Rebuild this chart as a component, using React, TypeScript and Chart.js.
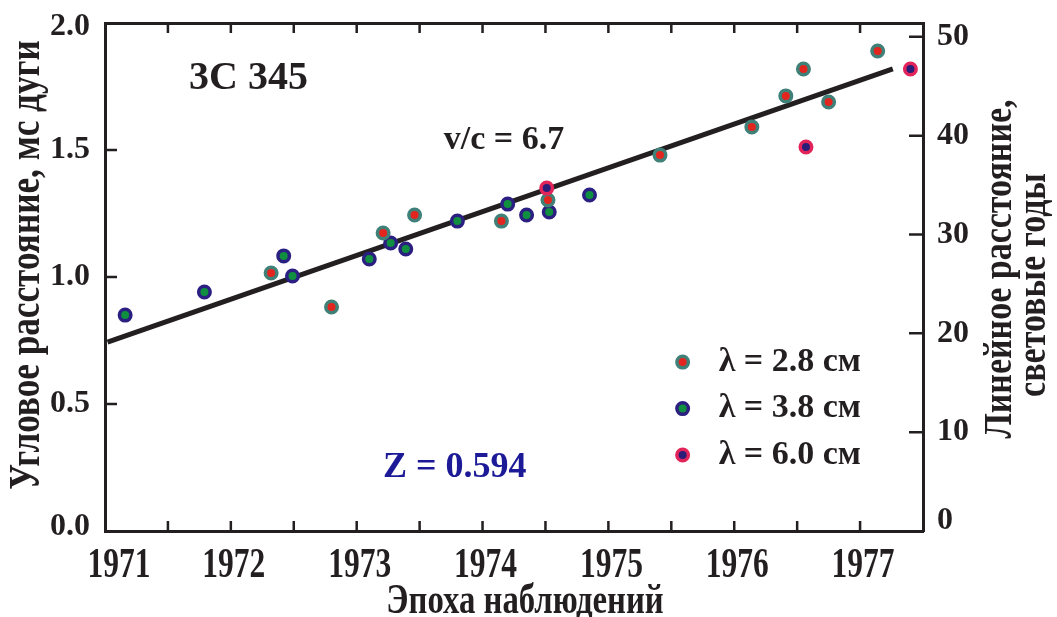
import { useEffect, useRef } from 'react';
import { Chart, registerables } from 'chart.js';

Chart.register(...registerables);

// Epochs of observation (years) and component separation (mas) per wavelength
const epochs28 = [1972.32, 1972.8, 1973.21, 1973.46, 1974.15, 1974.52, 1975.41, 1976.14, 1976.41, 1976.55, 1976.75, 1977.14];
const sep28 = [1.016, 0.882, 1.173, 1.244, 1.22, 1.303, 1.48, 1.591, 1.713, 1.819, 1.689, 1.89];

const epochs38 = [1971.16, 1971.79, 1972.42, 1972.49, 1973.1, 1973.27, 1973.39, 1973.8, 1974.2, 1974.35, 1974.53, 1974.85];
const sep38 = [0.85, 0.941, 1.083, 1.004, 1.071, 1.134, 1.11, 1.22, 1.287, 1.244, 1.256, 1.323];

const epochs60 = [1974.51, 1976.57, 1977.4];
const sep60 = [1.35, 1.512, 1.819];

// Straight-line fit of separation against time
const fitEpochs = [1971.02, 1977.26];
const fitSep = [0.744, 1.819];

// Axis ticks
const yearLabels = [1971, 1972, 1973, 1974, 1975, 1976, 1977];
const sepTicks = [0, 0.5, 1.0, 1.5, 2.0];
const lyTicks = [0, 10, 20, 30, 40, 50];

const EPOCH_MIN = 1971;
const EPOCH_MAX = 1977.5;
const SEP_MAX = 2.0;
const LY_PER_MAS = 25.7;

const INK = '#231f20';
const NAVY = '#1c1a96';
const SERIF = '"Liberation Serif", "Times New Roman", serif';

const zip = (xs: number[], ys: number[]) => xs.map((x, i) => ({ x, y: ys[i] }));

const halfYears: number[] = [];
for (let v = EPOCH_MIN; v <= EPOCH_MAX + 1e-9; v += 0.5) halfYears.push(v);

function drawText(
  ctx: CanvasRenderingContext2D,
  text: string,
  x: number,
  y: number,
  font: string,
  squeeze = 1,
  rotation = 0,
  color = INK,
  align: CanvasTextAlign = 'center'
) {
  ctx.save();
  ctx.translate(x, y);
  if (rotation) ctx.rotate(rotation);
  ctx.scale(squeeze, 1);
  ctx.font = font;
  ctx.fillStyle = color;
  ctx.textAlign = align;
  ctx.textBaseline = 'middle';
  ctx.fillText(text, 0, 0);
  ctx.restore();
}

const decorations = {
  id: 'decorations',
  afterDraw(chart: any) {
    const { ctx, chartArea: area, scales } = chart;
    const x = scales.x;
    const y = scales.y;
    const y2 = scales.y2;

    // inward tick marks
    ctx.save();
    ctx.strokeStyle = INK;
    ctx.lineWidth = 2.5;
    ctx.beginPath();
    halfYears.forEach((v) => {
      if (v <= EPOCH_MIN || v >= EPOCH_MAX) return;
      const px = x.getPixelForValue(v);
      ctx.moveTo(px, area.bottom);
      ctx.lineTo(px, area.bottom - 10);
      ctx.moveTo(px, area.top);
      ctx.lineTo(px, area.top + 10);
    });
    sepTicks.forEach((v) => {
      if (v <= 0 || v >= SEP_MAX) return;
      const py = y.getPixelForValue(v);
      ctx.moveTo(area.left, py);
      ctx.lineTo(area.left + 12, py);
    });
    lyTicks.forEach((v) => {
      if (v <= 0) return;
      const py = y2.getPixelForValue(v);
      ctx.moveTo(area.right, py);
      ctx.lineTo(area.right - 14, py);
    });
    ctx.stroke();
    ctx.restore();

    // tick labels
    const tickFont = `bold 32px ${SERIF}`;
    sepTicks.forEach((v) => {
      const py = Math.min(Math.max(y.getPixelForValue(v), area.top + 4), area.bottom - 4);
      drawText(ctx, v.toFixed(1), area.left - 15, py, tickFont, 1, 0, INK, 'right');
    });
    lyTicks.forEach((v) => {
      const py = Math.min(y2.getPixelForValue(v), area.bottom - 10);
      drawText(ctx, String(v), area.right + 14, py, tickFont, 1, 0, INK, 'left');
    });
    const yearFont = `bold 42px ${SERIF}`;
    yearLabels.forEach((v) => {
      let px = x.getPixelForValue(v) + 3;
      px = Math.max(px, area.left + 14);
      drawText(ctx, String(v), px, area.bottom + 35, yearFont, 0.75);
    });

    // axis titles
    const midY = (area.top + area.bottom) / 2;
    drawText(ctx, 'Эпоха наблюдений', (area.left + area.right) / 2 + 11, area.bottom + 71, `bold 42px ${SERIF}`, 0.78);
    drawText(ctx, 'Угловое расстояние, мс дуги', 28, midY - 12, `bold 44px ${SERIF}`, 0.8, -Math.PI / 2);
    drawText(ctx, 'Линейное расстояние,', area.right + 78, midY - 8, `bold 40px ${SERIF}`, 0.85, -Math.PI / 2);
    drawText(ctx, 'световые годы', area.right + 112, midY + 8, `bold 40px ${SERIF}`, 0.85, -Math.PI / 2);

    // annotations placed in data coordinates
    drawText(ctx, '3C 345', x.getPixelForValue(1972.14), y.getPixelForValue(1.78), `bold 40px ${SERIF}`);
    drawText(ctx, 'v/c = 6.7', x.getPixelForValue(1974.17), y.getPixelForValue(1.539), `bold 34px ${SERIF}`);
    drawText(ctx, 'Z = 0.594', x.getPixelForValue(1973.78), y.getPixelForValue(0.248), `bold 36px ${SERIF}`, 1, 0, NAVY);

    // legend
    const lx = x.getPixelForValue(1975.59);
    let row = 0;
    chart.data.datasets.forEach((ds: any) => {
      if (!ds.pointRadius) return;
      const ly = y.getPixelForValue(0.665 - row * 0.183);
      ctx.save();
      ctx.beginPath();
      ctx.arc(lx, ly, ds.pointRadius, 0, Math.PI * 2);
      ctx.fillStyle = ds.backgroundColor;
      ctx.fill();
      ctx.lineWidth = ds.borderWidth;
      ctx.strokeStyle = ds.borderColor;
      ctx.stroke();
      ctx.restore();
      drawText(ctx, ds.label, lx + 36, ly, `bold 34px ${SERIF}`, 1, 0, INK, 'left');
      row++;
    });
  },
};

// ring-and-dot marker: the stroke forms the coloured ring around the core fill
const marker = (ring: string, core: string) => ({
  pointRadius: 5.75,
  pointHoverRadius: 5.75,
  borderWidth: 3.5,
  pointBorderWidth: 3.5,
  borderColor: ring,
  backgroundColor: core,
  pointBackgroundColor: core,
  pointBorderColor: ring,
  showLine: false,
});

const axisBorder = { display: true, color: INK, width: 3 };
const hiddenGrid = { display: false, drawTicks: false };

export default function App() {
  const ref = useRef<HTMLCanvasElement | null>(null);

  useEffect(() => {
    if (!ref.current) return;
    const chart = new Chart(ref.current, {
      type: 'scatter',
      data: {
        datasets: [
          { label: 'λ = 2.8 см', data: zip(epochs28, sep28), order: 1, ...marker('#3f8078', '#e2261f') },
          { label: 'λ = 3.8 см', data: zip(epochs38, sep38), order: 2, ...marker('#2b2081', '#0f8f3f') },
          { label: 'λ = 6.0 см', data: zip(epochs60, sep60), order: 0, ...marker('#e3245b', '#2a1d78') },
          {
            label: 'fit',
            data: zip(fitEpochs, fitSep),
            order: 3,
            showLine: true,
            pointRadius: 0,
            borderColor: INK,
            borderWidth: 5,
            borderCapStyle: 'butt',
          } as any,
        ],
      },
      options: {
        animation: false,
        responsive: false,
        layout: { padding: 0 },
        plugins: { legend: { display: false }, tooltip: { enabled: false } },
        scales: {
          x: {
            type: 'linear',
            position: 'bottom',
            min: EPOCH_MIN,
            max: EPOCH_MAX,
            afterFit: (s: any) => {
              s.height = 86;
            },
            ticks: { display: false },
            grid: hiddenGrid,
            border: axisBorder,
          },
          xTop: {
            type: 'linear',
            position: 'top',
            min: EPOCH_MIN,
            max: EPOCH_MAX,
            afterFit: (s: any) => {
              s.height = 23;
            },
            ticks: { display: false },
            grid: hiddenGrid,
            border: axisBorder,
          },
          y: {
            type: 'linear',
            position: 'left',
            min: 0,
            max: SEP_MAX,
            afterFit: (s: any) => {
              s.width = 105;
            },
            ticks: { display: false },
            grid: hiddenGrid,
            border: axisBorder,
          },
          y2: {
            type: 'linear',
            position: 'right',
            min: 0,
            max: SEP_MAX * LY_PER_MAS,
            afterFit: (s: any) => {
              s.width = 134;
            },
            ticks: { display: false },
            grid: hiddenGrid,
            border: axisBorder,
          },
        },
      } as any,
      plugins: [decorations],
    });
    return () => chart.destroy();
  }, []);

  return (
    <div style={{ position: 'absolute', left: 0, top: 0, width: 1057, height: 617, background: '#fff' }}>
      <canvas ref={ref} width={1057} height={617} style={{ display: 'block' }} />
    </div>
  );
}
